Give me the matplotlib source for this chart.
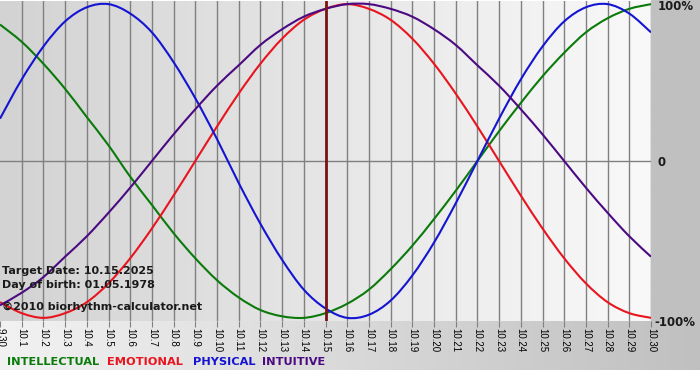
import matplotlib.pyplot as plt
import numpy as np
from matplotlib.colors import to_rgb
from matplotlib.patches import PathPatch
from matplotlib.path import Path

# Days shown on the x axis (9.30 .. 10.30)
days = [
    "9.30", "10.1", "10.2", "10.3", "10.4", "10.5", "10.6", "10.7", "10.8",
    "10.9", "10.10", "10.11", "10.12", "10.13", "10.14", "10.15", "10.16",
    "10.17", "10.18", "10.19", "10.20", "10.21", "10.22", "10.23", "10.24",
    "10.25", "10.26", "10.27", "10.28", "10.29", "10.30",
]

# Daily values (-1 .. 1)
intellectual = [
    0.87, 0.76, 0.62, 0.46, 0.28, 0.10, -0.10, -0.28, -0.46, -0.62, -0.76,
    -0.87, -0.95, -0.99, -1.00, -0.97, -0.91, -0.82, -0.69, -0.54, -0.37,
    -0.19, 0.00, 0.19, 0.37, 0.54, 0.69, 0.82, 0.91, 0.97, 1.00,
]
emotional = [
    -0.90, -0.97, -1.00, -0.97, -0.90, -0.78, -0.62, -0.43, -0.22, 0.00,
    0.22, 0.43, 0.62, 0.78, 0.90, 0.97, 1.00, 0.97, 0.90, 0.78, 0.62, 0.43,
    0.22, 0.00, -0.22, -0.43, -0.62, -0.78, -0.90, -0.97, -1.00,
]
physical = [
    0.27, 0.52, 0.73, 0.89, 0.98, 1.00, 0.94, 0.82, 0.63, 0.40, 0.14, -0.14,
    -0.40, -0.63, -0.82, -0.94, -1.00, -0.98, -0.89, -0.73, -0.52, -0.27,
    0.00, 0.27, 0.52, 0.73, 0.89, 0.98, 1.00, 0.94, 0.82,
]
intuitive = [
    -0.92, -0.84, -0.74, -0.61, -0.48, -0.33, -0.17, 0.00, 0.17, 0.33, 0.48,
    0.61, 0.74, 0.84, 0.92, 0.97, 1.00, 1.00, 0.97, 0.92, 0.84, 0.74, 0.61,
    0.48, 0.33, 0.17, 0.00, -0.17, -0.33, -0.48, -0.61,
]

series_names = ["INTELLECTUAL", "EMOTIONAL", "PHYSICAL", "INTUITIVE"]
series_colors = ["#0a7a0a", "#e8141e", "#1414d2", "#4b0a82"]
target_day = "10.15"
target_date = "10.15.2025"
birth_date = "01.05.1978"

W, H = 700, 380


def _ramp(left: str, right: str, n: int = 256) -> np.ndarray:
    """Horizontal colour ramp as a 1 x n RGB image."""
    a = np.array(to_rgb(left))
    b = np.array(to_rgb(right))
    t = np.linspace(0, 1, n)[:, None]
    return (a + (b - a) * t)[None, :, :]


def _smooth_path(xs, ys) -> Path:
    """Bezier path through the points (Catmull-Rom style tangents)."""
    pts = np.column_stack([xs, ys]).astype(float)
    n = len(pts)
    verts = [pts[0]]
    codes = [Path.MOVETO]
    for i in range(n - 1):
        p0 = pts[max(i - 1, 0)]
        p1 = pts[i]
        p2 = pts[i + 1]
        p3 = pts[min(i + 2, n - 1)]
        verts += [p1 + (p2 - p0) / 6, p2 - (p3 - p1) / 6, p2]
        codes += [Path.CURVE4] * 3
    return Path(verts, codes)


fig = plt.figure(figsize=(W / 100, H / 100), dpi=100)
fig.patch.set_facecolor("white")

# background panel in pixel coordinates
bg = fig.add_axes([0, 0, 1, 1], zorder=-1)
bg.axis("off")
bg.add_patch(plt.Rectangle((651, 0), W - 651, 321, color="#c0c0c0", lw=0))
bg.imshow(_ramp("#f2f2f2", "#c0c0c0"), extent=[0, W, 370, 321], aspect="auto")
bg.set_xlim(0, W)
bg.set_ylim(H, 0)

# main plot area
ax = fig.add_axes([0, 1 - 321 / H, 651 / W, 320 / H])
x = np.arange(len(days))
ax.set_xlim(0, len(days) - 1)
ax.set_ylim(-1.02, 1.02)
ax.imshow(_ramp("#d3d3d3", "#f9f9f9"), extent=[0, len(days) - 1, -1.02, 1.02],
          aspect="auto", zorder=0)

for xi in x[1:]:
    ax.axvline(xi, color="#808080", lw=1, zorder=1)
ax.axhline(0, color="#808080", lw=1, zorder=1)

for values, color in zip([intellectual, emotional, physical, intuitive], series_colors):
    ax.add_patch(PathPatch(_smooth_path(x, values), facecolor="none",
                           edgecolor=color, lw=1.5, zorder=2))

ax.axvline(days.index(target_day), color="#7a1414", lw=2, zorder=3)

for s in ax.spines.values():
    s.set_visible(False)
ax.set_yticks([])
ax.set_xticks(x)
ax.set_xticklabels(days, rotation=270, fontsize=7, family="Liberation Sans")
ax.tick_params(axis="x", length=4, color="#808080", pad=1)

# info text inside the plot
info = dict(fontsize=8, fontweight="bold", color="#1a1a1a", family="DejaVu Sans",
            zorder=5)
fig.text(2 / W, 1 - 271 / H, f"Target Date: {target_date}", va="center", **info)
fig.text(2 / W, 1 - 285 / H, f"Day of birth: {birth_date}", va="center", **info)
fig.text(2 / W, 1 - 307 / H, "\u00a92010 biorhythm-calculator.net", va="center", **info)

# right side labels
lab = dict(fontsize=8.5, fontweight="bold", color="#1a1a1a", va="center")
fig.text(658 / W, 1 - 7 / H, "100%", **lab)
fig.text(658 / W, 1 - 162 / H, "0", **lab)
fig.text(654 / W, 1 - 322 / H, "-100%", **lab)

# legend row
legend_x = [7, 107, 193, 262]
for name, color, lx in zip(series_names, series_colors, legend_x):
    fig.text(lx / W, 1 - 362 / H, name, color=color, fontsize=8.2,
             fontweight="bold", va="center")

fig.savefig("out.png", dpi=100)
plt.close(fig)
